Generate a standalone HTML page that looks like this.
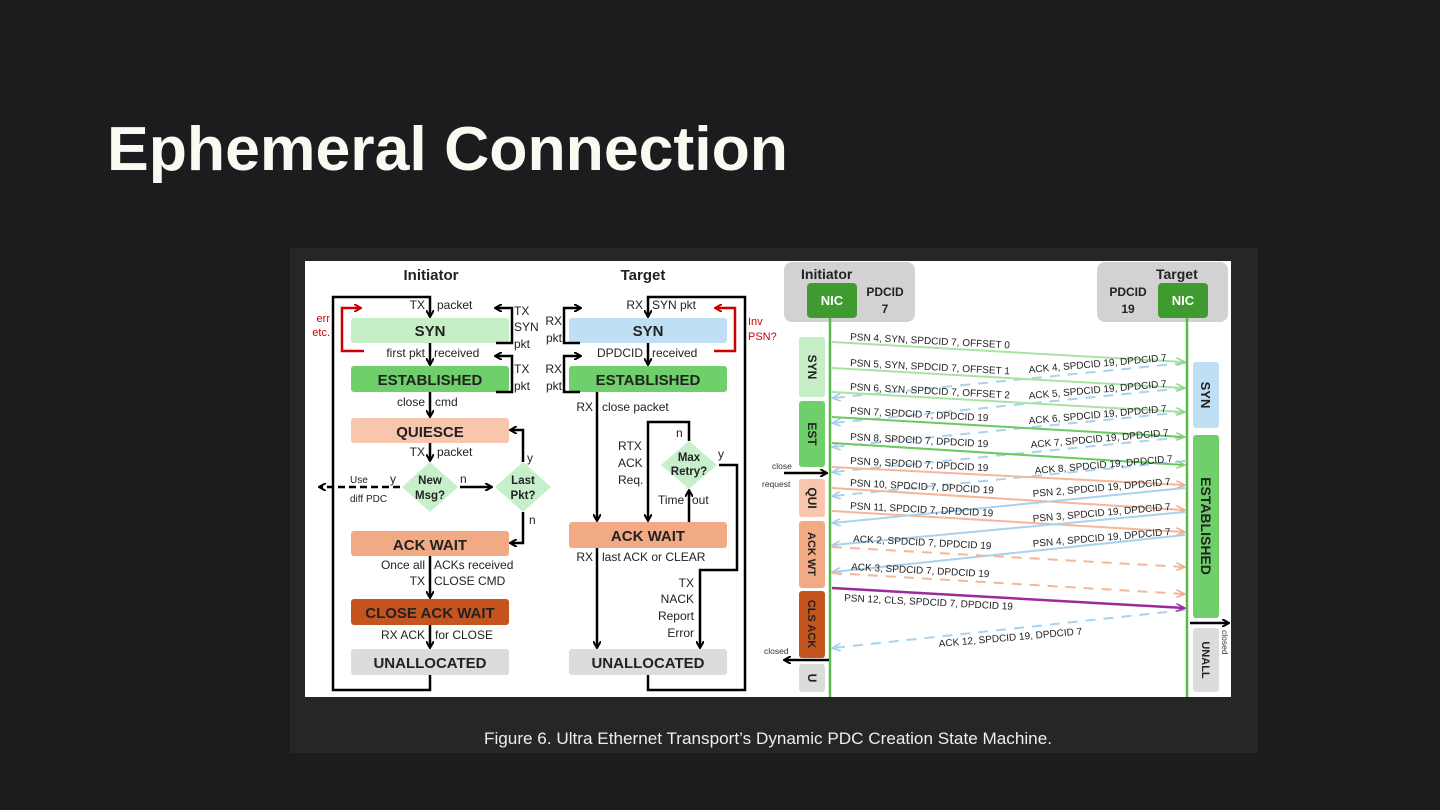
<!DOCTYPE html>
<html><head><meta charset="utf-8"><style>
html,body{margin:0;padding:0;background:#1b1c1d;}
svg{display:block}
</style></head><body>
<svg width="1440" height="810" viewBox="0 0 1440 810" xmlns="http://www.w3.org/2000/svg" font-family="Liberation Sans, sans-serif">
<defs>
<marker id="ak" markerWidth="8" markerHeight="8" refX="6" refY="4" orient="auto" markerUnits="userSpaceOnUse"><path d="M0,0 L7,4 L0,8" fill="none" stroke="#000" stroke-width="2"/></marker>
<marker id="ar" markerWidth="8" markerHeight="8" refX="6" refY="4" orient="auto" markerUnits="userSpaceOnUse"><path d="M0,0 L7,4 L0,8" fill="none" stroke="#c00" stroke-width="2"/></marker>
<marker id="ag" markerWidth="10" markerHeight="8" refX="8" refY="4" orient="auto" markerUnits="userSpaceOnUse"><path d="M0,0 L9,4 L0,8" fill="none" stroke="#8fd37f" stroke-width="1.5"/></marker>
<marker id="ab" markerWidth="10" markerHeight="8" refX="8" refY="4" orient="auto" markerUnits="userSpaceOnUse"><path d="M0,0 L9,4 L0,8" fill="none" stroke="#9fcbe8" stroke-width="1.5"/></marker>
<marker id="ao" markerWidth="10" markerHeight="8" refX="8" refY="4" orient="auto" markerUnits="userSpaceOnUse"><path d="M0,0 L9,4 L0,8" fill="none" stroke="#f0a987" stroke-width="1.5"/></marker>
<marker id="ap" markerWidth="10" markerHeight="8" refX="8" refY="4" orient="auto" markerUnits="userSpaceOnUse"><path d="M0,0 L9,4 L0,8" fill="none" stroke="#9b2b9b" stroke-width="1.5"/></marker>
</defs>
<rect width="1440" height="810" fill="#1b1c1d"/>
<text x="107" y="170" font-size="62" font-weight="bold" fill="#fafaf2" textLength="681" lengthAdjust="spacingAndGlyphs">Ephemeral Connection</text>
<rect x="290" y="248" width="968" height="505" fill="#262626"/>
<rect x="305" y="261" width="926" height="436" fill="#fff"/>
<text x="768" y="744" font-size="17" fill="#eee" text-anchor="middle" textLength="568" lengthAdjust="spacingAndGlyphs">Figure 6. Ultra Ethernet Transport’s Dynamic PDC Creation State Machine.</text>

<g font-size="11" fill="#222">
<text x="431" y="280" font-size="15" font-weight="bold" text-anchor="middle">Initiator</text>
<text x="643" y="280" font-size="15" font-weight="bold" text-anchor="middle">Target</text>
</g>
<g font-weight="bold" font-size="15" text-anchor="middle" fill="#222">
<rect x="351" y="318" width="158" height="25" rx="3" fill="#c6efc6"/><text x="430" y="336">SYN</text>
<rect x="351" y="366" width="158" height="26" rx="3" fill="#6fd06b"/><text x="430" y="385">ESTABLISHED</text>
<rect x="351" y="418" width="158" height="25" rx="3" fill="#f7c6ac"/><text x="430" y="437">QUIESCE</text>
<rect x="351" y="531" width="158" height="25" rx="3" fill="#f2aa85"/><text x="430" y="550">ACK WAIT</text>
<rect x="351" y="599" width="158" height="26" rx="3" fill="#c5541e"/><text x="430" y="618">CLOSE ACK WAIT</text>
<rect x="351" y="649" width="158" height="26" rx="3" fill="#dcdcdc"/><text x="430" y="668">UNALLOCATED</text>
<rect x="569" y="318" width="158" height="25" rx="3" fill="#bfe0f4"/><text x="648" y="336">SYN</text>
<rect x="569" y="366" width="158" height="26" rx="3" fill="#6fd06b"/><text x="648" y="385">ESTABLISHED</text>
<rect x="569" y="522" width="158" height="26" rx="3" fill="#f2aa85"/><text x="648" y="541">ACK WAIT</text>
<rect x="569" y="649" width="158" height="26" rx="3" fill="#dcdcdc"/><text x="648" y="668">UNALLOCATED</text>
</g>
<g fill="#c8efcc">
<polygon points="430,462 458,487 430,512 402,487"/>
<polygon points="523,462 551,487 523,512 495,487"/>
<polygon points="689,441 717,465 689,489 661,465"/>
</g>
<g font-size="11.5" font-weight="bold" text-anchor="middle" fill="#222">
<text x="430" y="484">New</text><text x="430" y="499">Msg?</text>
<text x="523" y="484">Last</text><text x="523" y="499">Pkt?</text>
<text x="689" y="461">Max</text><text x="689" y="475">Retry?</text>
</g>
<g stroke="#000" stroke-width="2.5" fill="none">
<path d="M430,675 V690 H333 V297 H430 V316" marker-end="url(#ak)"/>
<path d="M430,343 V364" marker-end="url(#ak)"/>
<path d="M430,392 V416" marker-end="url(#ak)"/>
<path d="M430,443 V460" marker-end="url(#ak)"/>
<path d="M430,556 V597" marker-end="url(#ak)"/>
<path d="M430,625 V647" marker-end="url(#ak)"/>
<path d="M460,487 H491" marker-end="url(#ak)"/>
<path d="M523,462 V430 H511" marker-end="url(#ak)"/>
<path d="M523,512 V543 H511" marker-end="url(#ak)"/>
<path d="M400,487 H320" stroke-dasharray="7,4" marker-end="url(#ak)"/>
<path d="M496,343 H512 V308 H496" marker-end="url(#ak)"/>
<path d="M496,392 H512 V356 H496" marker-end="url(#ak)"/>
<path d="M648,675 V690 H745 V297 H648 V316" marker-end="url(#ak)"/>
<path d="M648,343 V364" marker-end="url(#ak)"/>
<path d="M580,343 H564 V308 H580" marker-end="url(#ak)"/>
<path d="M580,392 H564 V356 H580" marker-end="url(#ak)"/>
<path d="M597,392 V520" marker-end="url(#ak)"/>
<path d="M597,548 V647" marker-end="url(#ak)"/>
<path d="M689,522 V491" marker-end="url(#ak)"/>
<path d="M689,441 V422 H648 V520" marker-end="url(#ak)"/>
<path d="M719,465 H737 V570 H700 V647" marker-end="url(#ak)"/>
</g>
<g stroke="#c00" stroke-width="2.5" fill="none">
<path d="M364,351 H342 V308 H360" marker-end="url(#ar)"/>
<path d="M714,351 H735 V308 H716" marker-end="url(#ar)"/>
</g>
<g font-size="12" fill="#222">
<text x="425" y="309" text-anchor="end">TX</text><text x="437" y="309">packet</text>
<text x="514" y="315">TX</text><text x="514" y="331">SYN</text><text x="514" y="348">pkt</text>
<text x="425" y="357" text-anchor="end">first pkt</text><text x="434" y="357">received</text>
<text x="514" y="373">TX</text><text x="514" y="390">pkt</text>
<text x="425" y="406" text-anchor="end">close</text><text x="435" y="406">cmd</text>
<text x="425" y="456" text-anchor="end">TX</text><text x="437" y="456">packet</text>
<text x="396" y="483" text-anchor="end">y</text><text x="460" y="483">n</text>
<text x="350" y="483" font-size="10">Use</text><text x="350" y="502" font-size="10">diff PDC</text>
<text x="527" y="462">y</text><text x="529" y="524">n</text>
<text x="425" y="569" text-anchor="end">Once all</text><text x="434" y="569">ACKs received</text>
<text x="425" y="585" text-anchor="end">TX</text><text x="434" y="585">CLOSE CMD</text>
<text x="425" y="639" text-anchor="end">RX ACK</text><text x="435" y="639">for CLOSE</text>
<text x="562" y="325" text-anchor="end">RX</text><text x="562" y="342" text-anchor="end">pkt</text>
<text x="643" y="309" text-anchor="end">RX</text><text x="652" y="309">SYN pkt</text>
<text x="643" y="357" text-anchor="end">DPDCID</text><text x="652" y="357">received</text>
<text x="562" y="373" text-anchor="end">RX</text><text x="562" y="390" text-anchor="end">pkt</text>
<text x="593" y="411" text-anchor="end">RX</text><text x="602" y="411">close packet</text>
<text x="618" y="450">RTX</text><text x="618" y="467">ACK</text><text x="618" y="484">Req.</text>
<text x="676" y="437">n</text><text x="718" y="458">y</text>
<text x="658" y="504">Time</text><text x="692" y="504">out</text>
<text x="593" y="561" text-anchor="end">RX</text><text x="602" y="561">last ACK or CLEAR</text>
<text x="694" y="587" text-anchor="end">TX</text><text x="694" y="603" text-anchor="end">NACK</text><text x="694" y="620" text-anchor="end">Report</text><text x="694" y="637" text-anchor="end">Error</text>
</g>
<g font-size="11" fill="#c00">
<text x="330" y="322" text-anchor="end">err</text><text x="330" y="336" text-anchor="end">etc.</text>
<text x="748" y="325">Inv</text><text x="748" y="340">PSN?</text>
</g>

<rect x="784" y="262" width="131" height="60" rx="8" fill="#d2d2d2"/>
<rect x="1097" y="262" width="131" height="60" rx="8" fill="#d2d2d2"/>
<rect x="807" y="283" width="50" height="35" rx="4" fill="#3f9a2f"/>
<rect x="1158" y="283" width="50" height="35" rx="4" fill="#3f9a2f"/>
<g font-weight="bold" fill="#222">
<text x="801" y="279" font-size="14">Initiator</text>
<text x="1156" y="279" font-size="14">Target</text>
<text x="832" y="305" font-size="13" fill="#fff" text-anchor="middle">NIC</text>
<text x="1183" y="305" font-size="13" fill="#fff" text-anchor="middle">NIC</text>
<text x="885" y="296" font-size="12" text-anchor="middle">PDCID</text><text x="885" y="313" font-size="12" text-anchor="middle">7</text>
<text x="1128" y="296" font-size="12" text-anchor="middle">PDCID</text><text x="1128" y="313" font-size="12" text-anchor="middle">19</text>
</g>
<line x1="830" y1="318" x2="830" y2="697" stroke="#5bb84a" stroke-width="2.5"/>
<line x1="1187" y1="318" x2="1187" y2="697" stroke="#5bb84a" stroke-width="2.5"/>
<g>
<rect x="799" y="337" width="26" height="60" rx="3" fill="#c6efc6"/>
<rect x="799" y="401" width="26" height="66" rx="3" fill="#6fd06b"/>
<rect x="799" y="479" width="26" height="38" rx="3" fill="#f7c6ac"/>
<rect x="799" y="521" width="26" height="67" rx="3" fill="#f2aa85"/>
<rect x="799" y="591" width="26" height="67" rx="3" fill="#c5541e"/>
<rect x="799" y="664" width="26" height="28" rx="3" fill="#dcdcdc"/>
<rect x="1193" y="362" width="26" height="66" rx="3" fill="#bfe0f4"/>
<rect x="1193" y="435" width="26" height="183" rx="3" fill="#6fd06b"/>
<rect x="1193" y="628" width="26" height="64" rx="3" fill="#dcdcdc"/>
</g>
<g font-weight="bold" fill="#222" text-anchor="middle">
<text transform="translate(812,367) rotate(90)" font-size="12" y="4">SYN</text>
<text transform="translate(812,434) rotate(90)" font-size="12" y="4">EST</text>
<text transform="translate(812,498) rotate(90)" font-size="12" y="4">QUI</text>
<text transform="translate(812,554) rotate(90)" font-size="11" y="4">ACK WT</text>
<text transform="translate(812,624) rotate(90)" font-size="11" y="4">CLS ACK</text>
<text transform="translate(812,678) rotate(90)" font-size="12" y="4">U</text>
<text transform="translate(1206,395) rotate(90)" font-size="13" y="5">SYN</text>
<text transform="translate(1206,526) rotate(90)" font-size="14" y="5">ESTABLISHED</text>
<text transform="translate(1206,660) rotate(90)" font-size="11" y="4">UNALL</text>
</g>
<g stroke="#a9d2ee" stroke-width="2" stroke-dasharray="10,8" fill="none" marker-end="url(#ab)">
<path d="M1185,363 L833,398"/>
<path d="M1185,388 L833,423"/>
<path d="M1185,412 L833,447"/>
<path d="M1185,437 L833,472"/>
<path d="M1185,461 L833,496"/>
<path d="M1185,610 L833,648"/>
</g>
<g stroke-width="2" fill="none">
<path d="M832,342 L1184,362" stroke="#a8e3a4" marker-end="url(#ag)"/>
<path d="M832,368 L1184,388" stroke="#a8e3a4" marker-end="url(#ag)"/>
<path d="M832,392 L1184,412" stroke="#a8e3a4" marker-end="url(#ag)"/>
<path d="M832,417 L1184,437" stroke="#6cc863" marker-end="url(#ag)"/>
<path d="M832,443 L1184,465" stroke="#6cc863" marker-end="url(#ag)"/>
<path d="M832,467 L1184,485" stroke="#f3b79a" marker-end="url(#ao)"/>
<path d="M832,488 L1184,510" stroke="#f3b79a" marker-end="url(#ao)"/>
<path d="M832,511 L1184,532" stroke="#f3b79a" marker-end="url(#ao)"/>
<path d="M1185,488 L833,523" stroke="#a9d2ee" marker-end="url(#ab)"/>
<path d="M1185,512 L833,545" stroke="#a9d2ee" marker-end="url(#ab)"/>
<path d="M1185,535 L833,572" stroke="#a9d2ee" marker-end="url(#ab)"/>
<path d="M832,547 L1184,567" stroke="#f3b79a" stroke-dasharray="10,8" marker-end="url(#ao)"/>
<path d="M832,573 L1184,594" stroke="#f3b79a" stroke-dasharray="10,8" marker-end="url(#ao)"/>
<path d="M832,588 L1184,608" stroke="#9b2b9b" stroke-width="2.5" marker-end="url(#ap)"/>
</g>
<g font-size="10" fill="#222">
<text transform="translate(850,340) rotate(3)">PSN 4, SYN, SPDCID 7, OFFSET 0</text>
<text transform="translate(850,366) rotate(3)">PSN 5, SYN, SPDCID 7, OFFSET 1</text>
<text transform="translate(850,390) rotate(3)">PSN 6, SYN, SPDCID 7, OFFSET 2</text>
<text transform="translate(850,414) rotate(3)">PSN 7, SPDCID 7, DPDCID 19</text>
<text transform="translate(850,440) rotate(3)">PSN 8, SPDCID 7, DPDCID 19</text>
<text transform="translate(850,464) rotate(3)">PSN 9, SPDCID 7, DPDCID 19</text>
<text transform="translate(850,486) rotate(3)">PSN 10, SPDCID 7, DPDCID 19</text>
<text transform="translate(850,509) rotate(3)">PSN 11, SPDCID 7, DPDCID 19</text>
<text transform="translate(853,542) rotate(3)">ACK 2, SPDCID 7, DPDCID 19</text>
<text transform="translate(851,570) rotate(3)">ACK 3, SPDCID 7, DPDCID 19</text>
<text transform="translate(844,601) rotate(3)">PSN 12, CLS, SPDCID 7, DPDCID 19</text>
<text transform="translate(1029,373) rotate(-5)">ACK 4, SPDCID 19, DPDCID 7</text>
<text transform="translate(1029,399) rotate(-5)">ACK 5, SPDCID 19, DPDCID 7</text>
<text transform="translate(1029,424) rotate(-5)">ACK 6, SPDCID 19, DPDCID 7</text>
<text transform="translate(1031,448) rotate(-5)">ACK 7, SPDCID 19, DPDCID 7</text>
<text transform="translate(1035,474) rotate(-5)">ACK 8, SPDCID 19, DPDCID 7</text>
<text transform="translate(1033,497) rotate(-5)">PSN 2, SPDCID 19, DPDCID 7</text>
<text transform="translate(1033,522) rotate(-5)">PSN 3, SPDCID 19, DPDCID 7</text>
<text transform="translate(1033,547) rotate(-5)">PSN 4, SPDCID 19, DPDCID 7</text>
<text transform="translate(939,647) rotate(-5)">ACK 12, SPDCID 19, DPDCID 7</text>
</g>
<g stroke="#000" stroke-width="2.5" fill="none">
<path d="M784,473 H826" marker-end="url(#ak)"/>
<path d="M829,660 H785" marker-end="url(#ak)"/>
<path d="M1190,623 H1228" marker-end="url(#ak)"/>
</g>
<g font-size="8.5" fill="#333">
<text x="772" y="469">close</text><text x="762" y="487">request</text>
<text x="764" y="654">closed</text>
<text transform="translate(1222,630) rotate(90)">closed</text>
</g>
</svg>
</body></html>
